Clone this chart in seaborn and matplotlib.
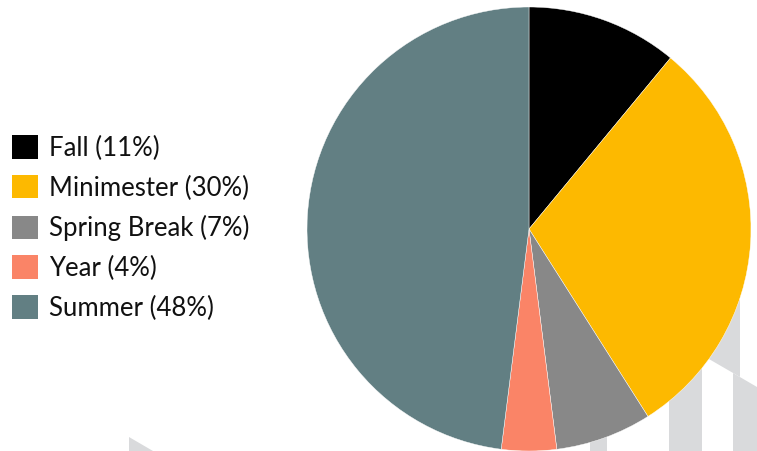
import matplotlib
matplotlib.use("Agg")
import matplotlib.pyplot as plt
from matplotlib.patches import Patch, Polygon
import seaborn as sns

# ==================================================
# DATA
# ==================================================
terms = ["Fall", "Minimester", "Spring Break", "Year", "Summer"]
shares = [11, 30, 7, 4, 48]
term_colors = ["#000000", "#fdb900", "#888888", "#fa8467", "#627f83"]

labels = [f"{t} ({s}%)" for t, s in zip(terms, shares)]

# ==================================================
# STYLE
# ==================================================
sns.set_theme(style="white")
plt.rcParams["font.family"] = ["Lato", "DejaVu Sans"]
palette = sns.color_palette(term_colors)

W, H = 757, 451
fig = plt.figure(figsize=(W / 100, H / 100), dpi=100)

# faint watermark shapes behind the pie
bg = fig.add_axes([0, 0, 1, 1], zorder=0)
bg.set_xlim(0, W); bg.set_ylim(H, 0); bg.axis("off")
wm = "#d9dadc"
for pts in [
    [(129, 437), (129, 451), (153, 451)],
    [(590, 430), (607, 430), (607, 451), (590, 451)],
    [(669, 300), (702, 300), (702, 451), (669, 451)],
    [(702, 300), (740, 300), (740, 377), (702, 355)],
    [(733, 373), (757, 387), (757, 451), (733, 451)],
]:
    bg.add_patch(Polygon(pts, closed=True, facecolor=wm, edgecolor="none"))

# ==================================================
# PIE
# ==================================================
ax = fig.add_axes([307 / W, 0, 444 / W, 444 / H], zorder=1)
ax.patch.set_alpha(0)
ax.pie(shares, colors=palette, startangle=90, counterclock=False,
       radius=1, wedgeprops=dict(edgecolor="white", linewidth=0.3))
ax.set_xlim(-1, 1); ax.set_ylim(-1, 1)
ax.set_aspect("equal")
ax.axis("off")

# ==================================================
# LEGEND
# ==================================================
handles = [Patch(facecolor=c, edgecolor="none") for c in palette]
leg = fig.legend(handles, labels, loc="center left",
                 bbox_to_anchor=(12 / W, 1 - 228 / H),
                 frameon=False, fontsize=18.5,
                 handlelength=1.02, handleheight=1.02,
                 handletextpad=0.42, labelspacing=0.56,
                 borderpad=0, borderaxespad=0)
for t in leg.get_texts():
    t.set_color("#111111")

fig.savefig("out.png", dpi=100)
